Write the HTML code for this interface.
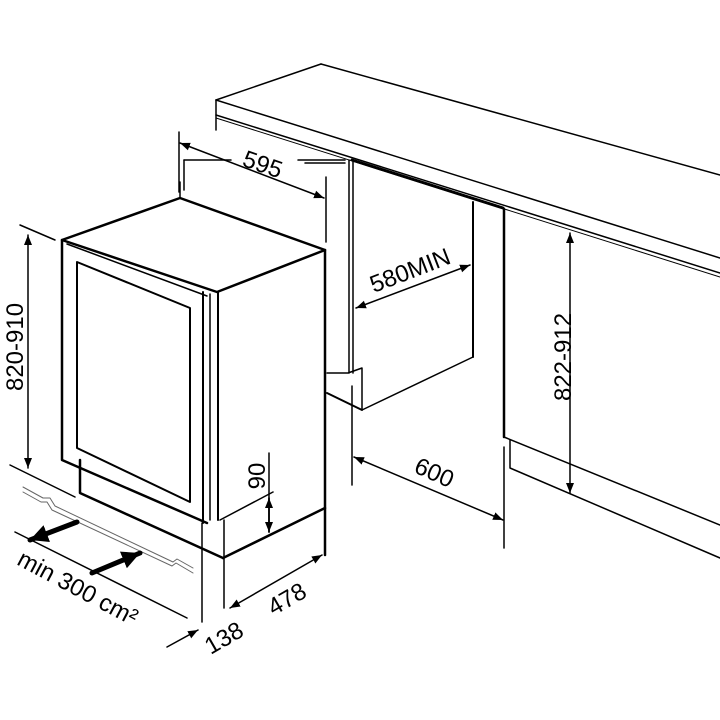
<!DOCTYPE html>
<html><head><meta charset="utf-8"><style>
html,body{margin:0;padding:0;background:#fff;}
svg{display:block;}
text{font-family:"Liberation Sans",Arial,sans-serif;fill:#000;}
</style></head><body>
<svg width="720" height="720" viewBox="0 0 720 720" xmlns="http://www.w3.org/2000/svg">
<defs>
<marker id="a" viewBox="0 0 10 10" refX="10" refY="5" markerWidth="10" markerHeight="10" orient="auto-start-reverse" markerUnits="userSpaceOnUse"><path d="M0,1 L10,5 L0,9 z" fill="#000"/></marker>
<marker id="b" viewBox="0 0 10 10" refX="10" refY="5" markerWidth="18" markerHeight="18" orient="auto" markerUnits="userSpaceOnUse"><path d="M0,0 L10,5 L0,10 z" fill="#000"/></marker>
</defs>
<g stroke="#000" fill="none" stroke-width="1.5" stroke-linecap="round" stroke-linejoin="round">
<line x1="216" y1="100" x2="321" y2="64"/>
<line x1="321" y1="64" x2="720" y2="175"/>
<line x1="216" y1="100" x2="720" y2="258"/>
<line x1="216" y1="100" x2="216" y2="130"/>
<line x1="216" y1="115" x2="720" y2="273"/>
<line x1="216" y1="118" x2="720" y2="277" stroke-width="1"/>
<line x1="352" y1="160" x2="503" y2="208" stroke-width="3"/>
<line x1="349" y1="160" x2="349" y2="373"/>
<line x1="353" y1="160" x2="353" y2="373"/>
<line x1="473" y1="202" x2="473" y2="357" stroke-width="2"/>
<polyline points="473,357 362,410 362,368 348,373 327,373"/>
<line x1="327" y1="393" x2="362" y2="410" stroke-width="2"/>
<line x1="352" y1="386" x2="352" y2="485"/>
<line x1="504" y1="209" x2="504" y2="437" stroke-width="2.5"/>
<polyline points="504,437 720,525"/>
<polyline points="510,440 510,468 720,558"/>
<line x1="504" y1="447" x2="504" y2="548"/>
<polygon points="62,240 180,198 325,250 217,292" stroke-width="2.5"/>
<line x1="67" y1="244" x2="207" y2="296"/>
<line x1="180" y1="198" x2="180" y2="182"/>
<polyline points="62,240 62,460 207,523" stroke-width="2.5"/>
<line x1="203" y1="292" x2="203" y2="523" stroke-width="2"/>
<line x1="210" y1="294" x2="210" y2="520"/>
<line x1="218" y1="292" x2="218" y2="520" stroke-width="2"/>
<polygon points="77,262 190,308 190,502 77,448" stroke-width="2"/>
<line x1="325" y1="250" x2="325" y2="555" stroke-width="2.5"/>
<line x1="223" y1="558" x2="325" y2="508" stroke-width="2.5"/>
<polyline points="80,460 80,493 223,558" stroke-width="2.5"/>
<line x1="202" y1="523" x2="202" y2="622"/>
<line x1="224" y1="520" x2="224" y2="608"/>
<line x1="220" y1="520" x2="273" y2="492"/>
<line x1="269" y1="453" x2="269" y2="532"/>
<line x1="269" y1="532" x2="269" y2="498" marker-end="url(#a)"/>
<line x1="269" y1="498" x2="269" y2="532" marker-end="url(#a)"/>
<line x1="20" y1="225" x2="55" y2="240"/>
<line x1="10" y1="465" x2="75" y2="497"/>
<line x1="28" y1="235" x2="28" y2="468" marker-start="url(#a)" marker-end="url(#a)"/>
<line x1="15" y1="532" x2="187" y2="618"/>
<g stroke="#666" stroke-width="1">
<polyline points="23,487 43,498 50,498 55,506 173,562 177,559 193,568"/>
<polyline points="23,492 41,502 47,502 52,510 172,566 176,563 193,573"/>
</g>
<line x1="77" y1="522" x2="30" y2="540" stroke-width="5" marker-end="url(#b)"/>
<line x1="92" y1="573" x2="140" y2="553" stroke-width="5" marker-end="url(#b)"/>
<line x1="179" y1="132" x2="179" y2="192"/>
<line x1="184" y1="160" x2="184" y2="190"/>
<line x1="184" y1="160" x2="231" y2="160"/>
<line x1="298" y1="160" x2="345" y2="160"/>
<line x1="305" y1="163" x2="345" y2="163"/>
<line x1="326" y1="177" x2="326" y2="242"/>
<line x1="180" y1="143" x2="324" y2="198" marker-start="url(#a)" marker-end="url(#a)"/>
<line x1="356" y1="308" x2="470" y2="265" marker-start="url(#a)" marker-end="url(#a)"/>
<line x1="354" y1="457" x2="503" y2="520" marker-start="url(#a)" marker-end="url(#a)"/>
<line x1="570" y1="233" x2="570" y2="493" marker-start="url(#a)" marker-end="url(#a)"/>
<line x1="230" y1="608" x2="322" y2="555" marker-start="url(#a)" marker-end="url(#a)"/>
<line x1="167" y1="647" x2="198" y2="630" marker-end="url(#a)"/>
</g>
<g font-size="24">
<text transform="translate(260,172) rotate(19)" text-anchor="middle">595</text>
<text transform="translate(413,278) rotate(-21)" text-anchor="middle">580MIN</text>
<text transform="translate(431,480) rotate(24)" text-anchor="middle">600</text>
<text transform="translate(571,357) rotate(-90)" text-anchor="middle">822-912</text>
<text transform="translate(23,347) rotate(-90)" text-anchor="middle">820-910</text>
<text transform="translate(265,476) rotate(-90)" text-anchor="middle">90</text>
<text transform="translate(291,606) rotate(-30)" text-anchor="middle">478</text>
<text transform="translate(228,645) rotate(-30)" text-anchor="middle">138</text>
<text transform="translate(74,595) rotate(28)" text-anchor="middle">min 300 cm²</text>
</g>
</svg>
</body></html>
